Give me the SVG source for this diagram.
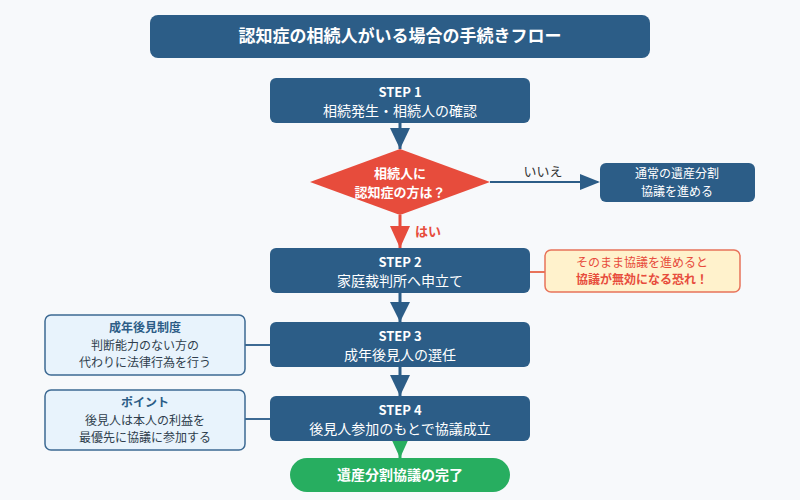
<svg xmlns="http://www.w3.org/2000/svg" width="800" height="500" viewBox="0 0 800 500">
<style>
text{font-family:"Noto Sans CJK JP","Noto Sans",sans-serif;text-anchor:middle}
.step{fill:#2c5d87}
.w{fill:#fff}
.b{font-weight:bold}
.note{fill:#e8f3fc;stroke:#3d6a93;stroke-width:1.5}
.nt{fill:#2f3e4d;font-size:12px}
.ln{stroke:#3d6a93;stroke-width:2;fill:none}
</style>
<defs>
<marker id="ab" markerWidth="10" markerHeight="10" refX="9" refY="5" orient="auto" markerUnits="userSpaceOnUse" viewBox="0 0 10 10"><path d="M0,0L10,5L0,10z" fill="#2c5d87"/></marker>
</defs>
<rect width="800" height="500" fill="#f7f9fb"/>
<g id="title"><rect x="150" y="15" width="500" height="43" rx="8" class="step"/><text x="400" y="42" class="w b" font-size="17">認知症の相続人がいる場合の手続きフロー</text></g>
<g id="connectors">
<path d="M400,122V149" stroke="#2c5d87" stroke-width="3"/><path d="M390,128L410,128L400,149z" fill="#2c5d87"/>
<path d="M490,182H598" stroke="#2c5d87" stroke-width="2"/><path d="M580,174L600,182L580,190z" fill="#2c5d87"/>
<text x="543" y="176" font-size="13" fill="#333">いいえ</text>
<path d="M400,215V248" stroke="#e74c3c" stroke-width="3"/><path d="M390,226L410,226L400,248z" fill="#e74c3c"/>
<text x="428" y="236" font-size="13" class="b" fill="#e74c3c">はい</text>
<path d="M400,293V322" stroke="#2c5d87" stroke-width="3"/><path d="M390,302L410,302L400,322z" fill="#2c5d87"/>
<path d="M400,367V396" stroke="#2c5d87" stroke-width="3"/><path d="M390,375L410,375L400,396z" fill="#2c5d87"/>
<path d="M400,430V458" stroke="#27ae60" stroke-width="3"/><path d="M390,436L410,436L400,458z" fill="#27ae60"/>
<path d="M530,272H545" class="ln" stroke="#e8735a" style="stroke:#e8735a"/>
<path d="M245,345H270" class="ln"/>
<path d="M245,419H270" class="ln"/>
</g>
<g id="step1"><rect x="270" y="78" width="260" height="45" rx="6" class="step"/><text x="400" y="97" class="w b" font-size="13">STEP 1</text><text x="400" y="116" class="w" font-size="14">相続発生・相続人の確認</text></g>
<g id="decision"><path d="M400,149L490,182L400,215L310,182z" fill="#e74c3c"/><text x="400" y="178" class="w b" font-size="13">相続人に</text><text x="400" y="197" class="w b" font-size="13">認知症の方は？</text></g>
<g id="normal"><rect x="600" y="163" width="155" height="39" rx="6" class="step"/><text x="677" y="178" class="w" font-size="12">通常の遺産分割</text><text x="677" y="196" class="w" font-size="12">協議を進める</text></g>
<g id="step2"><rect x="270" y="248" width="260" height="45" rx="6" class="step"/><text x="400" y="267" class="w b" font-size="13">STEP 2</text><text x="400" y="286" class="w" font-size="14">家庭裁判所へ申立て</text></g>
<g id="warn"><rect x="545" y="250" width="195" height="42" rx="6" fill="#fff2cc" stroke="#e8735a" stroke-width="1.5"/><text x="642" y="267" font-size="12" fill="#e74c3c">そのまま協議を進めると</text><text x="642" y="284" font-size="12" class="b" fill="#e74c3c">協議が無効になる恐れ！</text></g>
<g id="step3"><rect x="270" y="322" width="260" height="45" rx="6" class="step"/><text x="400" y="341" class="w b" font-size="13">STEP 3</text><text x="400" y="360" class="w" font-size="14">成年後見人の選任</text></g>
<g id="note1"><rect x="45" y="315" width="200" height="60" rx="6" class="note"/><text x="145" y="332" class="nt b" style="fill:#2c5d87">成年後見制度</text><text x="145" y="350" class="nt">判断能力のない方の</text><text x="145" y="367" class="nt">代わりに法律行為を行う</text></g>
<g id="step4"><rect x="270" y="396" width="260" height="45" rx="6" class="step"/><text x="400" y="415" class="w b" font-size="13">STEP 4</text><text x="400" y="434" class="w" font-size="14">後見人参加のもとで協議成立</text></g>
<g id="note2"><rect x="45" y="390" width="200" height="60" rx="6" class="note"/><text x="145" y="407" class="nt b" style="fill:#2c5d87">ポイント</text><text x="145" y="425" class="nt">後見人は本人の利益を</text><text x="145" y="442" class="nt">最優先に協議に参加する</text></g>
<g id="done"><rect x="290" y="458" width="220" height="34" rx="17" fill="#27ae60"/><text x="400" y="480" class="w b" font-size="14">遺産分割協議の完了</text></g>
</svg>
